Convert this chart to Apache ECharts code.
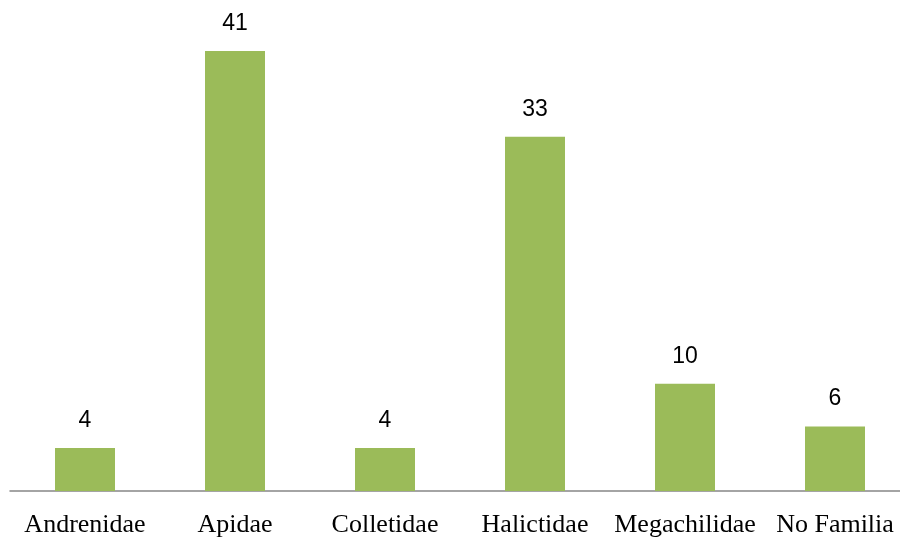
<!DOCTYPE html>
<html>
<head>
<meta charset="utf-8">
<script src="https://cdn.jsdelivr.net/npm/echarts@6/dist/echarts.min.js"></script>
</head>
<body style="margin:0">
<div id="main" style="width:900px;height:537px"></div>
<script>
var families = ['Andrenidae', 'Apidae', 'Colletidae', 'Halictidae', 'Megachilidae', 'No Familia'];
var counts = [4, 41, 4, 33, 10, 6];

var myChart = echarts.init(document.getElementById('main'));
var option = {
    animation: false,
    grid: { left: 10, top: 8, width: 900, height: 483, outerBoundsMode: 'none', containLabel: false },
    xAxis: {
        type: 'category',
        data: families,
        axisLine: { lineStyle: { color: '#868686', width: 1.5 } },
        axisTick: { show: false },
        axisLabel: {
            color: '#000',
            fontFamily: 'Liberation Serif',
            fontSize: 26,
            margin: 21,
            interval: 0
        }
    },
    yAxis: {
        type: 'value',
        min: 0,
        max: 45,
        show: false
    },
    series: [{
        type: 'bar',
        data: counts,
        barWidth: 60,
        itemStyle: { color: '#9BBB59' },
        label: {
            show: true,
            position: 'top',
            distance: 16,
            color: '#000',
            fontFamily: 'Liberation Sans',
            fontSize: 23
        }
    }]
};
myChart.setOption(option);
</script>
</body>
</html>
